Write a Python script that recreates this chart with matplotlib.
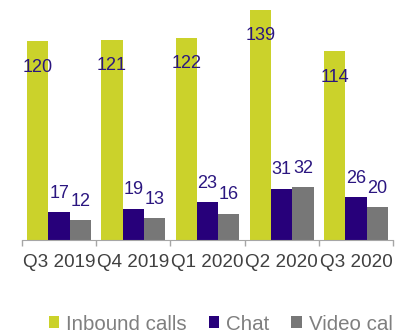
import numpy as np
import matplotlib.pyplot as plt

quarters = ["Q3 2019", "Q4 2019", "Q1 2020", "Q2 2020", "Q3 2020"]
inbound = [120, 121, 122, 139, 114]
chat = [17, 19, 23, 31, 26]
video = [12, 13, 16, 32, 20]

plt.rcParams["font.family"] = ["Liberation Sans", "DejaVu Sans"]

fig = plt.figure(figsize=(3.95, 3.34), dpi=100)
ax = fig.add_axes([22 / 395, 94 / 334, 371 / 395, 240 / 334])

x = np.arange(len(quarters))
w = 0.287
label_color = "#2b1680"
b1 = ax.bar(x - w, inbound, w, color="#cbd22b", label="Inbound calls")
b2 = ax.bar(x, chat, w, color="#27007a", label="Chat")
b3 = ax.bar(x + w, video, w, color="#777777", label="Video cal")

for bar, val in zip(b1, inbound):
    ax.annotate(str(val), (bar.get_x() + bar.get_width() / 2, bar.get_height()),
                xytext=(0, -18.5), textcoords="offset points", ha="center", va="center",
                fontsize=13, color=label_color)
for bars, vals in ((b2, chat), (b3, video)):
    for bar, val in zip(bars, vals):
        ax.annotate(str(val), (bar.get_x() + bar.get_width() / 2, bar.get_height()),
                    xytext=(0, 13.5), textcoords="offset points", ha="center", va="center",
                    fontsize=13, color=label_color)

ax.set_xlim(-0.5, len(quarters) - 0.5)
ax.set_ylim(0, 145)
ax.set_xticks(x)
ax.set_xticklabels(quarters, fontsize=13.6, color="#404040")
ax.set_xticks(np.arange(len(quarters) + 1) - 0.5, minor=True)
ax.tick_params(axis="x", which="major", length=0, pad=10)
ax.tick_params(axis="x", which="minor", length=4, color="#a6a6a6", width=1)
ax.set_yticks([])
for side in ("top", "right", "left"):
    ax.spines[side].set_visible(False)
ax.spines["bottom"].set_color("#a6a6a6")

leg = fig.legend(loc="center left", bbox_to_anchor=(49 / 395, 10 / 334), ncol=3,
                 frameon=False, fontsize=14.8, handlelength=0.5, handleheight=0.5,
                 handletextpad=0.35, columnspacing=1.06, borderaxespad=0, borderpad=0)
for t in leg.get_texts():
    t.set_color("#7f7f7f")

fig.savefig("out.png", dpi=100)
